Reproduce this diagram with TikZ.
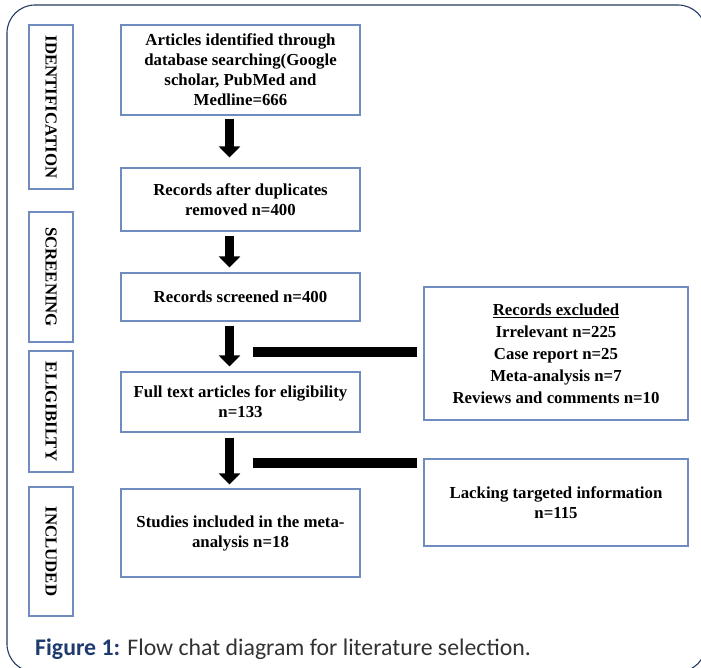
\documentclass[tikz,border=0pt]{standalone}
\usepackage{fontspec}
\setmainfont{Liberation Serif}
\newfontfamily\capfont{Carlito}
\usetikzlibrary{arrows.meta,calc}
\definecolor{boxblue}{RGB}{112,140,190}
\definecolor{framenavy}{RGB}{38,58,98}
\definecolor{capnavy}{RGB}{31,58,110}
\definecolor{capgray}{RGB}{50,50,50}

\begin{document}
\begin{tikzpicture}[x=1pt,y=-1pt,
  every node/.style={font=\fontsize{16.8}{20}\selectfont\bfseries},
  mainbox/.style={draw=boxblue,line width=1.2pt,minimum width=239pt,align=center,inner sep=2pt},
  sidebox/.style={draw=boxblue,line width=1.2pt,minimum width=264pt,align=center,inner sep=2pt},
  stagebox/.style={draw=boxblue,line width=1.2pt,rotate=-90,minimum height=44pt,inner sep=0pt},
  flowarrow/.style={line width=8.5pt,-{Triangle[width=21pt,length=11pt]}},
  barline/.style={line width=10pt}]
\useasboundingbox (0,0) rectangle (701,668);
\draw[framenavy,line width=1.1pt,rounded corners=28pt] (7,5) rectangle (706,672);

\node[stagebox,minimum width=164pt] (ident) at (51,107) {IDENTIFICATION};
\node[stagebox,minimum width=130pt] (screen) at (51,277) {SCREENING};
\node[stagebox,minimum width=121pt] (elig) at (51,411.5) {ELIGIBILTY};
\node[stagebox,minimum width=129pt] (incl) at (51,551.5) {INCLUDED};

\node[mainbox,minimum height=90pt] (found) at (240.5,70) {Articles identified through\\database searching(Google\\scholar, PubMed and\\Medline=666};
\node[mainbox,minimum height=63pt] (dedup) at (240.5,199.5) {Records after duplicates\\removed n=400};
\node[mainbox,minimum height=48pt] (screened) at (240.5,297) {Records screened n=400};
\node[mainbox,minimum height=60pt] (fulltext) at (240.5,402) {Full text articles for eligibility\\n=133};
\node[mainbox,minimum height=88pt] (studies) at (240.5,533) {Studies included in the meta-\\analysis n=18};

\node[sidebox,minimum height=133pt,font=\fontsize{16.8}{22}\selectfont\bfseries] (excl) at (556,353.5) {\underline{Records excluded}\\Irrelevant n=225\\Case report n=25\\Meta-analysis n=7\\Reviews and comments n=10};
\node[sidebox,minimum height=87pt] (lack) at (556,502.5) {Lacking targeted information\\n=115};

\coordinate (ax) at (229.5,0);
\draw[flowarrow] ($(found.south -| ax)+(0,3)$) -- ($(dedup.north -| ax)+(0,-10)$);
\draw[flowarrow] ($(dedup.south -| ax)+(0,4)$) -- ($(screened.north -| ax)+(0,-5)$);
\draw[flowarrow] ($(screened.south -| ax)+(0,4)$) -- ($(fulltext.north -| ax)+(0,-5)$);
\draw[flowarrow] ($(fulltext.south -| ax)+(0,5)$) -- ($(studies.north -| ax)+(0,-4)$);

\coordinate (cut1) at (253,352);
\coordinate (cut2) at (253,462.5);
\draw[barline] (cut1) -- ($(cut1 -| excl.west)+(-6,0)$);
\draw[barline] (cut2) -- ($(cut2 -| lack.west)+(-6,0)$);

\node[anchor=base west,inner sep=0pt,font=\capfont\fontsize{23.8}{28}\selectfont] (cap) at (35,655) {\textcolor{capnavy}{\bfseries Figure 1:} \textcolor{capgray}{Flow chat diagram for literature selection.}};
\end{tikzpicture}
\end{document}
